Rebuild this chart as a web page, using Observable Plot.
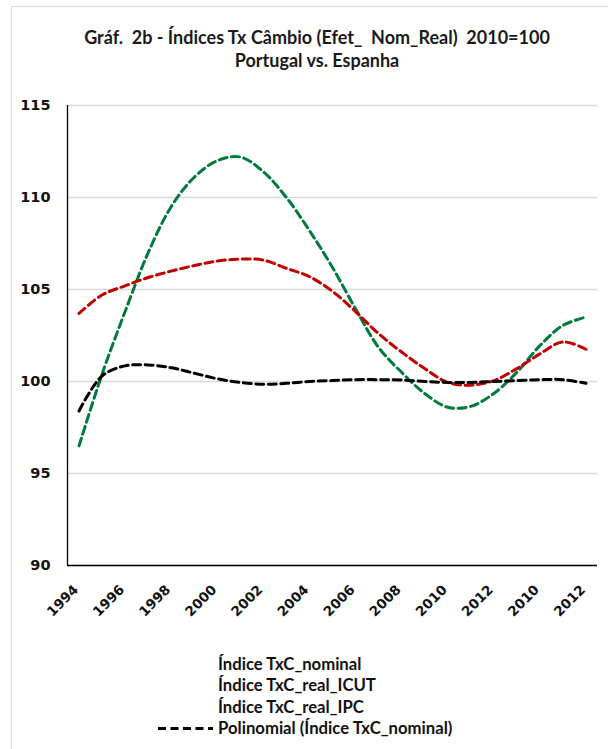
<!DOCTYPE html>
<html>
<head>
<meta charset="utf-8">
<script src="https://cdn.jsdelivr.net/npm/d3@7"></script>
<script src="https://cdn.jsdelivr.net/npm/@observablehq/plot@0.6"></script>
<style>
  html, body { margin: 0; padding: 0; background: #fff; overflow: hidden; }
  #page { position: relative; width: 608px; height: 749px; overflow: hidden; }
  #frame { position: absolute; left: 11px; top: 6px; width: 700px; height: 800px; border: 1px solid #d9d9d9; box-sizing: border-box; }
  #title { position: absolute; left: 0; top: 26px; width: 634px; text-align: center; font-family: Lato, sans-serif; font-weight: bold; font-size: 18px; line-height: 23px; color: #1a1a1a; white-space: pre; }
  #chart { position: absolute; left: 0; top: 85px; }
  #legend { position: absolute; left: 156px; top: 654px; font-family: Lato, sans-serif; font-weight: bold; font-size: 16.7px; line-height: 21px; color: #111; }
  .row { display: flex; align-items: center; height: 21.3px; }
  .sym { width: 62px; height: 21px; }
</style>
</head>
<body>
<div id="page">
  <div id="frame"></div>
  <div id="title"></div>
  <div id="chart"></div>
  <div id="legend"></div>
</div>
<script>
const titleLines = ["Gráf.  2b - Índices Tx Câmbio (Efet_  Nom_Real)  2010=100", "Portugal vs. Espanha"];
const categories = ["1994","1995","1996","1997","1998","1999","2000","2001","2002","2003","2004","2005","2006","2007","2008","2009","2010","2011","2012","2013","2010","2011","2012"];
const serieVerde = [96.5, 100.4, 103.8, 107.0, 109.5, 111.1, 112.0, 112.2, 111.4, 110.0, 108.2, 106.2, 103.95, 101.85, 100.5, 99.35, 98.6, 98.65, 99.35, 100.5, 101.95, 103.05, 103.5];
const serieVermelha = [103.7, 104.7, 105.2, 105.65, 106.0, 106.3, 106.55, 106.65, 106.6, 106.15, 105.7, 104.9, 103.8, 102.6, 101.6, 100.7, 99.95, 99.8, 100.05, 100.7, 101.5, 102.15, 101.75];
const seriePolinomial = [98.4, 100.3, 100.85, 100.9, 100.75, 100.45, 100.15, 99.95, 99.85, 99.9, 100.0, 100.05, 100.1, 100.1, 100.08, 100.0, 99.95, 99.95, 100.0, 100.05, 100.1, 100.1, 99.9];
const yTicks = [90, 95, 100, 105, 110, 115];
const legendItems = ["Índice TxC_nominal", "Índice TxC_real_ICUT", "Índice TxC_real_IPC", "Polinomial (Índice TxC_nominal)"];

document.getElementById("title").textContent = titleLines.join("\n");

const series = [
  {name: "verde", values: serieVerde, color: "#007a3d"},
  {name: "vermelha", values: serieVermelha, color: "#c00000"},
  {name: "polinomial", values: seriePolinomial, color: "#000000"}
];
const rows = series.flatMap(s => s.values.map((v, i) => ({i, v, name: s.name, color: s.color})));
const tickIdx = categories.map((c, i) => i).filter(i => i % 2 === 0);

const chart = Plot.plot({
  width: 608,
  height: 540,
  marginLeft: 67,
  marginRight: 11,
  marginTop: 20,
  marginBottom: 60,
  style: {fontFamily: "'DejaVu Sans', sans-serif", fontWeight: "bold", fontSize: "14.5px", color: "#111", background: "transparent"},
  x: {type: "linear", domain: [-0.5, categories.length - 0.5]},
  y: {domain: [90, 115]},
  marks: [
    Plot.gridY(yTicks, {stroke: "#d9d9d9", strokeOpacity: 1, strokeWidth: 1.3}),
    Plot.axisY(yTicks, {tickSize: 0, tickPadding: 17, label: null, fontSize: 14.5}),
    Plot.axisX(tickIdx, {tickSize: 0, tickPadding: 22, dx: -3, tickRotate: -45, tickFormat: i => categories[i], label: null, fontSize: 13.5}),
    Plot.ruleY([90], {stroke: "#000", strokeWidth: 1.3}),
    Plot.ruleX([-0.5], {stroke: "#000", strokeWidth: 1.3}),
    Plot.line(rows, {x: "i", y: "v", z: "name", stroke: "color", strokeWidth: 3, strokeDasharray: "8,4.5", curve: "catmull-rom"})
  ]
});
document.getElementById("chart").appendChild(chart);

const legend = document.getElementById("legend");
legendItems.forEach((t, k) => {
  const row = document.createElement("div");
  row.className = "row";
  const sym = document.createElementNS("http://www.w3.org/2000/svg", "svg");
  sym.setAttribute("class", "sym");
  sym.setAttribute("width", 62);
  sym.setAttribute("height", 21);
  if (k === legendItems.length - 1) {
    const ln = document.createElementNS("http://www.w3.org/2000/svg", "line");
    ln.setAttribute("x1", 2); ln.setAttribute("x2", 57);
    ln.setAttribute("y1", 10.5); ln.setAttribute("y2", 10.5);
    ln.setAttribute("stroke", "#000"); ln.setAttribute("stroke-width", 3);
    ln.setAttribute("stroke-dasharray", "8,4.5");
    sym.appendChild(ln);
  }
  row.appendChild(sym);
  const span = document.createElement("span");
  span.textContent = t;
  row.appendChild(span);
  legend.appendChild(row);
});
</script>
</body>
</html>
